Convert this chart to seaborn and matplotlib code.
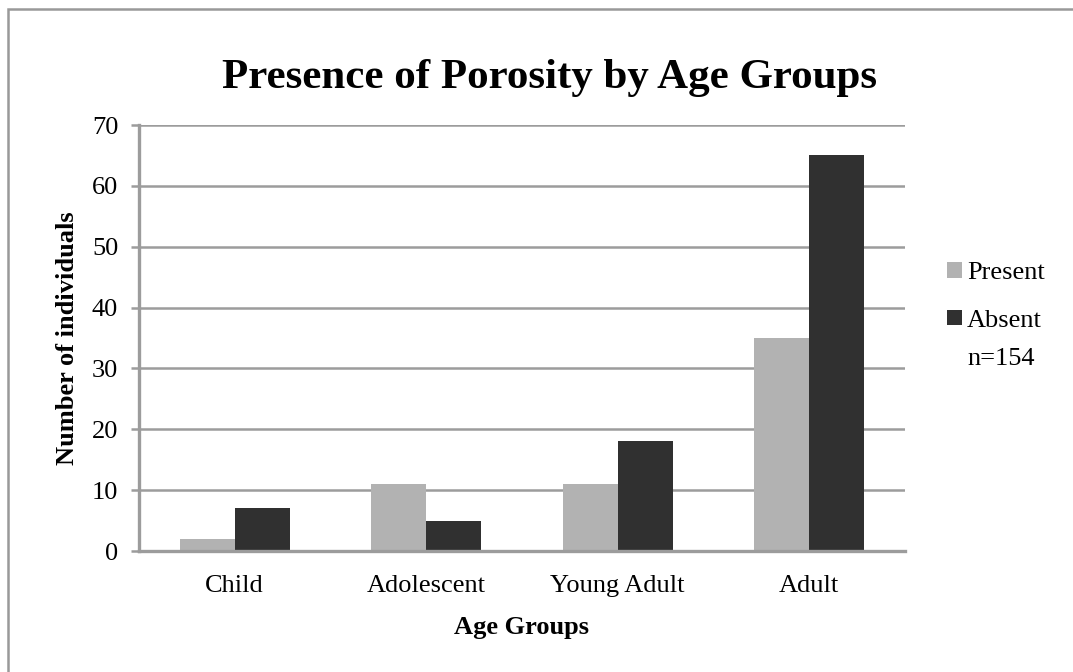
import matplotlib
matplotlib.use("Agg")
import matplotlib.pyplot as plt
from matplotlib.patches import Rectangle
from matplotlib.ticker import FixedLocator
import seaborn as sns
import pandas as pd

# Counts of individuals per age group, split by presence of porosity
age_groups = ["Child", "Adolescent", "Young Adult", "Adult"]
present = [2, 11, 11, 35]
absent = [7, 5, 18, 65]
series_names = ["Present", "Absent"]
y_ticks = [0, 10, 20, 30, 40, 50, 60, 70]
sample_note = "n=154"

df = pd.DataFrame({
    "Age Groups": age_groups * 2,
    "Porosity": [series_names[0]] * len(age_groups) + [series_names[1]] * len(age_groups),
    "Count": present + absent,
})

sns.set_theme(style="white")
plt.rcParams["font.family"] = ["Liberation Serif", "DejaVu Serif"]
plt.rcParams["text.color"] = "black"
plt.rcParams["axes.labelcolor"] = "black"
plt.rcParams["xtick.color"] = "black"
plt.rcParams["ytick.color"] = "black"

W, H = 1073, 672
fig = plt.figure(figsize=(W / 100, H / 100), dpi=100)
ax = fig.add_axes([139 / W, 1 - 551 / H, (905 - 139) / W, (551 - 125) / H])

grid_c = "#9c9c9c"
fs = 19
sns.barplot(
    data=df, x="Age Groups", y="Count", hue="Porosity",
    palette={"Present": "#b2b2b2", "Absent": "#303030"},
    width=0.575, gap=0, saturation=1, ax=ax, legend=True,
    linewidth=0,
)

ax.set_ylim(0, 70)
ax.set_xlim(-0.5, len(age_groups) - 0.5)
ax.set_yticks(y_ticks)
ax.yaxis.grid(True, color=grid_c, linewidth=1.8)
ax.set_axisbelow(True)

# Category-boundary tick marks on the x axis
ax.xaxis.set_minor_locator(FixedLocator([i - 0.5 for i in range(len(age_groups) + 1)]))
ax.tick_params(axis="x", which="major", length=0, pad=17, labelsize=fs, labelcolor="black")
ax.tick_params(axis="x", which="minor", length=6, width=1.8, color=grid_c, direction="out")
ax.tick_params(axis="y", which="major", length=6, width=1.8, color=grid_c,
               direction="out", labelsize=fs, pad=9, left=True, labelcolor="black")

for side in ["top", "right"]:
    ax.spines[side].set_visible(False)
for side in ["left", "bottom"]:
    ax.spines[side].set_color(grid_c)
    ax.spines[side].set_linewidth(2.4)

ax.set_xlabel("Age Groups", fontsize=fs, fontweight="bold", labelpad=14, color="black")
ax.set_ylabel("Number of individuals", fontsize=fs, fontweight="bold", labelpad=9, color="black")

fig.text(549 / W, 1 - 78 / H, "Presence of Porosity by Age Groups",
         ha="center", va="center", fontsize=31, fontweight="bold", color="black")

handles, labels = ax.get_legend_handles_labels()
leg = ax.legend(handles, labels, loc="center left",
                bbox_to_anchor=(947 / W, 1 - 297 / H), bbox_transform=fig.transFigure,
                frameon=False, fontsize=fs, handlelength=0.55, handleheight=0.55,
                handletextpad=0.2, labelspacing=0.95, borderpad=0, borderaxespad=0)
for t in leg.get_texts():
    t.set_color("black")
fig.text(967 / W, 1 - 359 / H, sample_note, ha="left", va="center", fontsize=fs, color="black")

# Outer chart frame
fig.patches.append(Rectangle((8 / W, -0.1), 1.2, 1 - 9 / H + 0.1,
                             transform=fig.transFigure, fill=False,
                             edgecolor="#999999", linewidth=1.8, zorder=0))

fig.savefig("out.png", dpi=100)
